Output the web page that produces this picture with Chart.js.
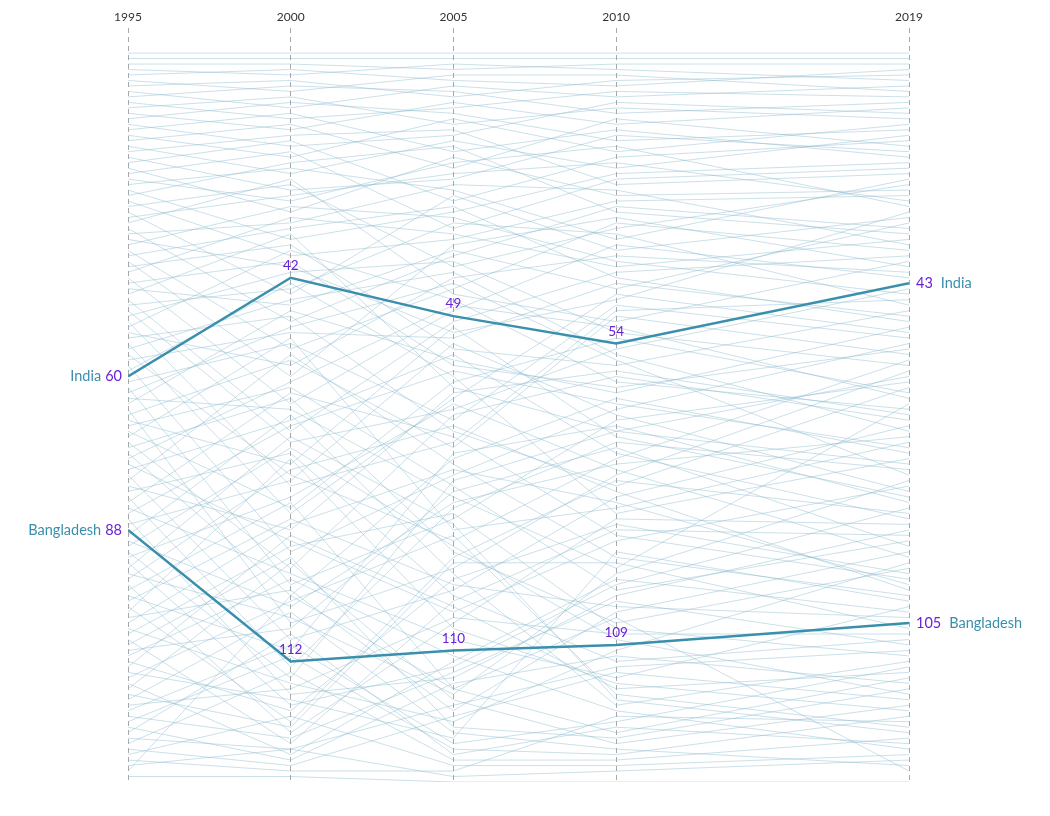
<!DOCTYPE html>
<html>
<head>
<meta charset="utf-8">
<script src="https://cdn.jsdelivr.net/npm/chart.js@4/dist/chart.umd.min.js"></script>
<style>
  html, body { margin: 0; padding: 0; background: #fff; }
  #wrap { width: 1050px; height: 816px; position: relative; }
</style>
</head>
<body>
<div id="wrap"><canvas id="chart"></canvas></div>
<script>
const years = [1995, 2000, 2005, 2010, 2019];

const indiaRanks = [60, 42, 49, 54, 43];
const bangladeshRanks = [88, 112, 110, 109, 105];

// other countries, rank in each year (roughly)
const otherRanks = [
  [1, 1, 1, 1, 1], [2, 2, 2, 2, 2], [3, 3, 4, 3, 3], [4, 5, 3, 4, 6], [5, 4, 6, 7, 4],
  [6, 8, 5, 5, 8], [7, 6, 9, 6, 5], [8, 11, 7, 9, 7], [9, 7, 8, 12, 10], [10, 13, 11, 8, 9],
  [11, 9, 14, 11, 13], [12, 15, 10, 14, 11], [13, 10, 12, 17, 15], [14, 18, 16, 10, 12], [15, 12, 19, 15, 20],
  [16, 20, 13, 19, 14], [17, 14, 22, 13, 18], [18, 23, 17, 22, 16], [19, 16, 15, 25, 23], [20, 26, 24, 16, 19],
  [21, 17, 28, 20, 17], [22, 30, 20, 27, 26], [23, 19, 33, 24, 22], [24, 28, 21, 18, 29], [25, 22, 26, 35, 24],
  [26, 35, 30, 23, 21], [27, 21, 18, 30, 34], [28, 38, 35, 28, 27], [29, 25, 40, 33, 25], [30, 45, 27, 37, 31],
  [31, 27, 23, 21, 28], [32, 24, 45, 50, 39], [33, 50, 38, 29, 33], [34, 32, 25, 26, 36], [35, 40, 52, 46, 30],
  [36, 29, 31, 39, 45], [37, 55, 44, 32, 37], [38, 33, 29, 42, 50], [39, 60, 36, 31, 40], [40, 36, 55, 58, 48],
  [41, 31, 34, 40, 35], [42, 65, 48, 36, 42], [43, 39, 58, 62, 55], [44, 47, 37, 44, 32], [45, 34, 62, 70, 60],
  [46, 70, 50, 41, 38], [47, 44, 32, 34, 47], [48, 72, 66, 55, 44], [49, 41, 39, 52, 58], [50, 80, 72, 48, 46],
  [51, 37, 46, 61, 66], [52, 58, 42, 38, 41], [53, 49, 70, 80, 62], [54, 85, 64, 45, 52], [55, 46, 41, 56, 70],
  [56, 78, 90, 75, 57], [57, 52, 53, 43, 49], [58, 92, 78, 66, 54], [59, 43, 60, 85, 75], [61, 54, 68, 47, 53],
  [62, 98, 86, 68, 61], [63, 51, 43, 57, 78], [64, 66, 82, 95, 65], [65, 48, 57, 63, 51], [66, 105, 95, 78, 59],
  [67, 57, 73, 49, 56], [68, 76, 51, 71, 82], [69, 62, 80, 99, 90], [70, 84, 61, 53, 63], [71, 53, 88, 84, 72],
  [72, 95, 67, 60, 68], [73, 64, 92, 105, 95], [74, 100, 75, 64, 74], [75, 61, 47, 51, 64], [76, 90, 103, 90, 80],
  [77, 68, 56, 74, 86], [78, 108, 99, 82, 69], [79, 56, 76, 93, 100], [80, 88, 63, 59, 67], [81, 74, 100, 112, 108],
  [82, 113, 84, 72, 77], [83, 63, 71, 89, 97], [84, 96, 108, 115, 102], [85, 69, 59, 65, 73], [86, 118, 115, 100, 88],
  [87, 79, 54, 67, 81], [89, 67, 96, 120, 112], [90, 102, 83, 76, 71], [91, 73, 91, 108, 118], [92, 115, 79, 70, 76],
  [93, 82, 65, 77, 93], [94, 120, 113, 98, 84], [95, 71, 87, 119, 125], [96, 104, 118, 96, 79], [97, 77, 69, 81, 99],
  [98, 125, 105, 86, 87], [99, 83, 117, 125, 115], [100, 110, 74, 69, 83], [101, 86, 98, 102, 104], [102, 123, 93, 79, 85],
  [103, 75, 106, 116, 121], [104, 99, 121, 103, 92], [105, 87, 77, 83, 98], [106, 116, 123, 110, 94], [107, 91, 85, 106, 111],
  [108, 127, 101, 88, 89], [109, 93, 124, 126, 117], [110, 106, 81, 73, 91], [111, 97, 111, 121, 128], [112, 121, 97, 87, 96],
  [113, 89, 102, 117, 114], [114, 119, 126, 92, 101], [115, 101, 89, 118, 124], [116, 129, 112, 97, 103], [117, 94, 119, 127, 120],
  [118, 124, 94, 94, 106], [119, 103, 125, 128, 131], [120, 117, 104, 107, 107], [121, 109, 127, 123, 113], [122, 126, 114, 101, 109],
  [123, 111, 128, 129, 122], [124, 130, 116, 111, 116], [125, 107, 129, 124, 127], [126, 128, 120, 113, 110], [127, 114, 130, 130, 126],
  [128, 131, 122, 114, 119], [129, 122, 131, 131, 129], [130, 132, 132, 122, 123], [131, 128, 133, 132, 130], [132, 100, 117, 104, 132],
  [133, 133, 134, 134, 134]
];

const HIGHLIGHT = '#3a8fad';
const VALUE_COLOR = '#6a22d8';
const FONT = 'Lato, "Noto Sans", sans-serif';

function toPoints(ranks) {
  return ranks.map((r, i) => ({ x: years[i], y: r }));
}

const datasets = [
  { label: 'India', data: toPoints(indiaRanks), borderColor: HIGHLIGHT, borderWidth: 2.5, order: 0, highlight: true },
  { label: 'Bangladesh', data: toPoints(bangladeshRanks), borderColor: HIGHLIGHT, borderWidth: 2.5, order: 0, highlight: true }
];
otherRanks.forEach((ranks, i) => {
  datasets.push({
    label: 'c' + i,
    data: toPoints(ranks),
    borderColor: 'rgba(130, 180, 203, 0.42)',
    borderWidth: 1,
    order: 1
  });
});

const labelPlugin = {
  id: 'rankLabels',
  afterDatasetsDraw(chart) {
    const ctx = chart.ctx;
    ctx.save();
    ctx.textBaseline = 'middle';
    chart.data.datasets.forEach((ds, di) => {
      if (!ds.highlight) return;
      const pts = chart.getDatasetMeta(di).data;
      pts.forEach((p, i) => {
        const val = String(ds.data[i].y);
        if (i === 0) {
          ctx.font = '14.5px ' + FONT;
          ctx.textAlign = 'right';
          ctx.fillStyle = VALUE_COLOR;
          ctx.fillText(val, p.x - 6, p.y);
          const w = ctx.measureText(val).width;
          ctx.fillStyle = HIGHLIGHT;
          ctx.fillText(ds.label, p.x - 6 - w - 4, p.y);
        } else if (i === pts.length - 1) {
          ctx.font = '14.5px ' + FONT;
          ctx.textAlign = 'left';
          ctx.fillStyle = VALUE_COLOR;
          ctx.fillText(val, p.x + 7, p.y);
          const w = ctx.measureText(val).width;
          ctx.fillStyle = HIGHLIGHT;
          ctx.fillText(ds.label, p.x + 7 + w + 8, p.y);
        } else {
          ctx.font = '13.5px ' + FONT;
          ctx.textAlign = 'center';
          ctx.fillStyle = VALUE_COLOR;
          ctx.fillText(val, p.x, p.y - 12);
        }
      });
    });
    ctx.restore();
  }
};

new Chart(document.getElementById('chart'), {
  type: 'line',
  data: { datasets },
  options: {
    responsive: true,
    maintainAspectRatio: false,
    animation: false,
    events: [],
    layout: { padding: { left: 128, right: 141, top: 6, bottom: 34 } },
    elements: { point: { radius: 0 }, line: { tension: 0 } },
    plugins: { legend: { display: false }, tooltip: { enabled: false } },
    scales: {
      x: {
        type: 'linear',
        position: 'top',
        min: 1995,
        max: 2019,
        afterBuildTicks: axis => { axis.ticks = years.map(v => ({ value: v })); },
        ticks: { color: '#333', font: { family: FONT, size: 12 }, padding: 4, callback: v => String(v), autoSkip: false, maxRotation: 0 },
        grid: { color: '#a8a8a8', lineWidth: 1, drawTicks: false },
        border: { display: false, dash: [5, 4] }
      },
      y: {
        display: false,
        reverse: true,
        min: -3.5,
        max: 134
      }
    }
  },
  plugins: [labelPlugin]
});
</script>
</body>
</html>
